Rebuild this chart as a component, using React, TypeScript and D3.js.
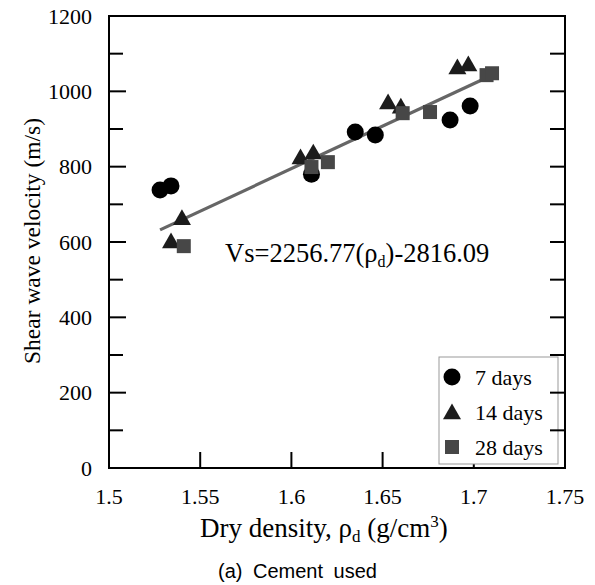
import React from "react";
import * as d3 from "d3";

const days7X = [1.528, 1.534, 1.611, 1.635, 1.646, 1.687, 1.698];
const days7Y = [738, 749, 780, 892, 884, 924, 961];
const days14X = [1.534, 1.540, 1.605, 1.612, 1.653, 1.660, 1.691, 1.697];
const days14Y = [600, 662, 823, 836, 969, 958, 1062, 1070];
const days28X = [1.541, 1.611, 1.620, 1.661, 1.676, 1.707, 1.710];
const days28Y = [589, 799, 812, 942, 945, 1043, 1048];
const fitSlope = 2256.77;
const fitIntercept = -2816.09;
const fitRange = [1.528, 1.709];
const xTicks = [1.5, 1.55, 1.6, 1.65, 1.7, 1.75];
const xTickLabels = ["1.5", "1.55", "1.6", "1.65", "1.7", "1.75"];
const yMajor = [0, 200, 400, 600, 800, 1000, 1200];
const yMinor = [100, 300, 500, 700, 900, 1100];
const legendLabels = ["7 days", "14 days", "28 days"];

const W = 595, H = 585;
const L = 109, R = 565, T = 16, B = 468;
const serif = "'Liberation Serif', 'Times New Roman', serif";

export default function App() {
  const x = d3.scaleLinear().domain([1.5, 1.75]).range([L, R]);
  const y = d3.scaleLinear().domain([0, 1200]).range([B, T]);
  const circColor = "#000";
  const triColor = "#1c1c1c";
  const sqColor = "#474747";
  const tri = (cx: number, cy: number, s: number) => {
    const h = s * 0.87;
    return `M${cx},${cy - h * 0.6}L${cx + s / 2},${cy + h * 0.4}L${cx - s / 2},${cy + h * 0.4}Z`;
  };
  const line = d3.line<number>().x((d) => x(d)).y((d) => y(fitSlope * d + fitIntercept));
  const allY = [...yMajor, ...yMinor];
  return (
    <svg width={W} height={H} style={{ position: "absolute", left: 0, top: 0 }} xmlns="http://www.w3.org/2000/svg">
      <rect x={0} y={0} width={W} height={H} fill="#fff" />
      {/* fit line */}
      <path d={line(fitRange) || ""} stroke="#666" strokeWidth={3.2} fill="none" />
      {/* data */}
      {days7X.map((v, i) => (
        <circle key={"c" + i} cx={x(v)} cy={y(days7Y[i])} r={8.5} fill={circColor} />
      ))}
      {days14X.map((v, i) => (
        <path key={"t" + i} d={tri(x(v), y(days14Y[i]), 18)} fill={triColor} />
      ))}
      {days28X.map((v, i) => (
        <rect key={"s" + i} x={x(v) - 7} y={y(days28Y[i]) - 7} width={14} height={14} fill={sqColor} />
      ))}
      {/* x ticks */}
      {xTicks.map((t, i) => (
        <line key={"xt" + i} x1={x(t)} x2={x(t)} y1={B} y2={B - 16} stroke="#000" strokeWidth={2} />
      ))}
      {/* left y ticks */}
      {yMajor.map((t, i) => (
        <line key={"ym" + i} x1={L} x2={L + 17} y1={y(t)} y2={y(t)} stroke="#000" strokeWidth={2} />
      ))}
      {yMinor.map((t, i) => (
        <line key={"yn" + i} x1={L} x2={L + 14} y1={y(t)} y2={y(t)} stroke="#000" strokeWidth={2} />
      ))}
      {/* legend */}
      <rect x={439} y={357} width={119} height={107} fill="#fff" stroke="#999" strokeWidth={1} />
      {/* right ticks */}
      {allY.map((t, i) => (
        <line key={"yr" + i} x1={R} x2={R - 15} y1={y(t)} y2={y(t)} stroke="#000" strokeWidth={2} />
      ))}
      <circle cx={452} cy={377} r={8.5} fill={circColor} />
      <path d={tri(452, 413, 18)} fill={triColor} />
      <rect x={445} y={440} width={14} height={14} fill={sqColor} />
      {legendLabels.map((s, i) => (
        <text key={"lg" + i} x={475} y={385 + i * 35} fontFamily={serif} fontSize={22} fill="#000">{s}</text>
      ))}
      {/* frame */}
      <rect x={L} y={T} width={R - L} height={B - T} fill="none" stroke="#000" strokeWidth={2} />
      {/* tick labels */}
      {xTicks.map((t, i) => (
        <text key={"xl" + i} x={x(t)} y={504} textAnchor="middle" fontFamily={serif} fontSize={22}>{xTickLabels[i]}</text>
      ))}
      {yMajor.map((t, i) => (
        <text key={"yl" + i} x={92} y={y(t) + 7.5} textAnchor="end" fontFamily={serif} fontSize={22}>{t}</text>
      ))}
      {/* equation */}
      <text x={225} y={262} fontFamily={serif} fontSize={26.5}>
        Vs=2256.77(ρ<tspan fontSize={16} dy={5}>d</tspan><tspan dy={-5}>)-2816.09</tspan>
      </text>
      {/* axis labels */}
      <text x={200} y={537} fontFamily={serif} fontSize={27}>
        Dry density, ρ<tspan fontSize={17} dy={5}>d</tspan><tspan dy={-5}> (g/cm</tspan><tspan fontSize={17} dy={-10}>3</tspan><tspan dy={10}>)</tspan>
      </text>
      <text transform={`translate(40,241) rotate(-90)`} textAnchor="middle" fontFamily={serif} fontSize={23.5}>
        Shear wave velocity (m/s)
      </text>
      <text x={218} y={578} fontFamily="'Liberation Sans', Arial, sans-serif" fontSize={20} style={{ wordSpacing: "5px" }}>
        (a) Cement used
      </text>
    </svg>
  );
}
